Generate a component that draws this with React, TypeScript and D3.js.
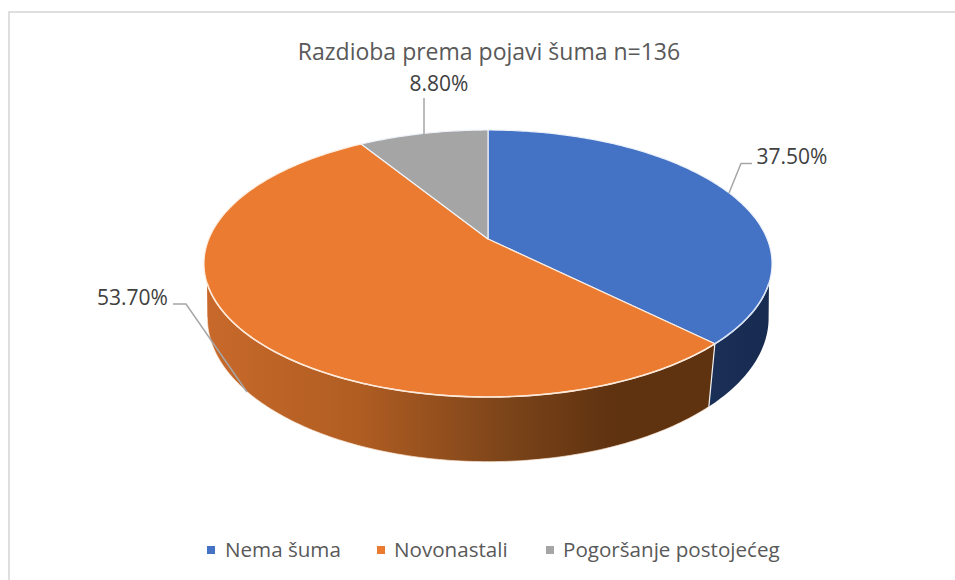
import { useEffect, useRef } from "react";
import * as d3 from "d3";

const categories = ["Nema šuma", "Novonastali", "Pogoršanje postojećeg"];
const values = [37.5, 53.7, 8.8];
const valueLabels = ["37.50%", "53.70%", "8.80%"];
const colors = ["#4472c4", "#eb7b30", "#a5a5a5"];
const chartTitle = "Razdioba prema pojavi šuma n=136";

const FONT = "'Open Sans', 'Noto Sans', sans-serif";
const cx = 488;
const cy = 239;

// perspective of the top disc, worked out from the slice corners
const tilt = 0.1835;
const scaleX = 279.2;
const scaleY = 129;
// the bottom disc has its own perspective
const tiltB = 0.16;
const scaleXB = 277;
const scaleYB = 140;
const cyB = 295;

const deg = (d: number) => (d * Math.PI) / 180;

const project = (a: number, k: number, sx: number, sy: number, c: number): [number, number] => {
  const px = Math.sin(a);
  const py = -Math.cos(a);
  const w = 1 - k * py;
  return [cx + (sx * px) / w, c + (sy * py) / w];
};
const top = (a: number) => project(a, tilt, scaleX, scaleY, cy);
const bottom = (a: number) => project(a, tiltB, scaleXB, scaleYB, cyB);

const arcPoints = (fn: (a: number) => [number, number], a0: number, a1: number) => {
  const n = Math.max(2, Math.ceil(Math.abs(a1 - a0) * 60));
  return d3.range(n + 1).map((i) => fn(a0 + ((a1 - a0) * i) / n));
};

const line = d3.line();

export default function App() {
  const ref = useRef<SVGSVGElement>(null);

  useEffect(() => {
    const svg = d3.select(ref.current);
    svg.selectAll("*").remove();

    const arcs = d3.pie<number>().sort(null)(values);

    // chart frame, only the top and left edges are inside the picture
    svg.append("path")
      .attr("d", "M9,580V12H955")
      .attr("fill", "none")
      .attr("stroke", "#dfdfdf")
      .attr("stroke-width", 2);

    svg.append("text")
      .attr("x", 489)
      .attr("y", 60)
      .attr("text-anchor", "middle")
      .attr("font-family", FONT)
      .attr("font-size", 23)
      .attr("fill", "#595959")
      .text(chartTitle);

    const defs = svg.append("defs");
    const orangeGrad = defs.append("linearGradient")
      .attr("id", "side-orange")
      .attr("gradientUnits", "userSpaceOnUse")
      .attr("x1", 205).attr("x2", 716).attr("y1", 0).attr("y2", 0);
    [[0, "#c8692b"], [0.3, "#b05d22"], [0.6, "#7a4319"], [0.8, "#5f3210"], [1, "#5f3210"]].forEach(([o, c]) =>
      orangeGrad.append("stop").attr("offset", o as number).attr("stop-color", c as string)
    );
    const blueGrad = defs.append("linearGradient")
      .attr("id", "side-blue")
      .attr("gradientUnits", "userSpaceOnUse")
      .attr("x1", 710).attr("x2", 772).attr("y1", 0).attr("y2", 0);
    blueGrad.append("stop").attr("offset", 0).attr("stop-color", "#1b3057");
    blueGrad.append("stop").attr("offset", 1).attr("stop-color", "#172a50");

    // angles where the walls leave the disc outline on the right and on the left
    const wallStart = deg(108.7);
    const wallEnd = deg(251.3);
    const bottomStart = deg(99);
    const bottomEnd = deg(261);
    const seam = arcs[0].endAngle;

    // side walls first, the top faces sit over their back edges
    svg.append("path")
      .attr("d", line([...arcPoints(top, wallStart, seam), ...arcPoints(bottom, seam, bottomStart)]) + "Z")
      .attr("fill", "url(#side-blue)");
    svg.append("path")
      .attr("d", line([...arcPoints(top, seam, wallEnd), ...arcPoints(bottom, bottomEnd, seam)]) + "Z")
      .attr("fill", "url(#side-orange)");

    // light rim along the wall bottom and the wall seam
    svg.append("path")
      .attr("d", line(arcPoints(bottom, seam, bottomEnd)))
      .attr("fill", "none")
      .attr("stroke", "#fbe6d6")
      .attr("stroke-width", 0.7);
    svg.append("path")
      .attr("d", line([top(seam), bottom(seam)]))
      .attr("stroke", "#f3f3f3")
      .attr("stroke-width", 1.2);

    arcs.forEach((d, i) => {
      const pts = [[cx, cy] as [number, number], ...arcPoints(top, d.startAngle, d.endAngle)];
      svg.append("path")
        .attr("d", line(pts) + "Z")
        .attr("fill", colors[i])
        .attr("stroke", i === 1 ? "#fdeee2" : "#eef2fa")
        .attr("stroke-width", 1.2)
        .attr("stroke-linejoin", "round");
    });

    // the rim highlights along the front edge of the disc
    svg.append("path")
      .attr("d", line(arcPoints(top, seam, wallEnd)))
      .attr("fill", "none")
      .attr("stroke", "#fde9d9")
      .attr("stroke-width", 1.6);
    svg.append("path")
      .attr("d", line(arcPoints(top, wallStart, seam)))
      .attr("fill", "none")
      .attr("stroke", "#d5e1f3")
      .attr("stroke-width", 1.6);

    // leader lines
    const leaders = [
      "M752,163.5H741L729,193",
      "M173,304H186L247,392",
      "M424,98V134",
    ];
    leaders.forEach((p) =>
      svg.append("path")
        .attr("d", p)
        .attr("fill", "none")
        .attr("stroke", "#a6a6a6")
        .attr("stroke-width", 1.5)
    );

    const labelPos: [number, number][] = [[792, 164], [132.5, 305], [439, 91]];
    valueLabels.forEach((t, i) =>
      svg.append("text")
        .attr("x", labelPos[i][0])
        .attr("y", labelPos[i][1])
        .attr("text-anchor", "middle")
        .attr("font-family", FONT)
        .attr("font-size", 21)
        .attr("fill", "#404040")
        .text(t)
    );

    // legend
    const legendX = [207, 377, 546];
    const legendTextX = [225, 394, 563];
    categories.forEach((c, i) => {
      svg.append("rect")
        .attr("x", legendX[i])
        .attr("y", 546)
        .attr("width", 8)
        .attr("height", 8)
        .attr("fill", colors[i]);
      svg.append("text")
        .attr("x", legendTextX[i])
        .attr("y", 557)
        .attr("font-family", FONT)
        .attr("font-size", 20.6)
        .attr("fill", "#595959")
        .text(c);
    });
  }, []);

  return (
    <svg
      ref={ref}
      width={955}
      height={580}
      style={{ position: "fixed", left: 0, top: 0, background: "#fff" }}
    />
  );
}
